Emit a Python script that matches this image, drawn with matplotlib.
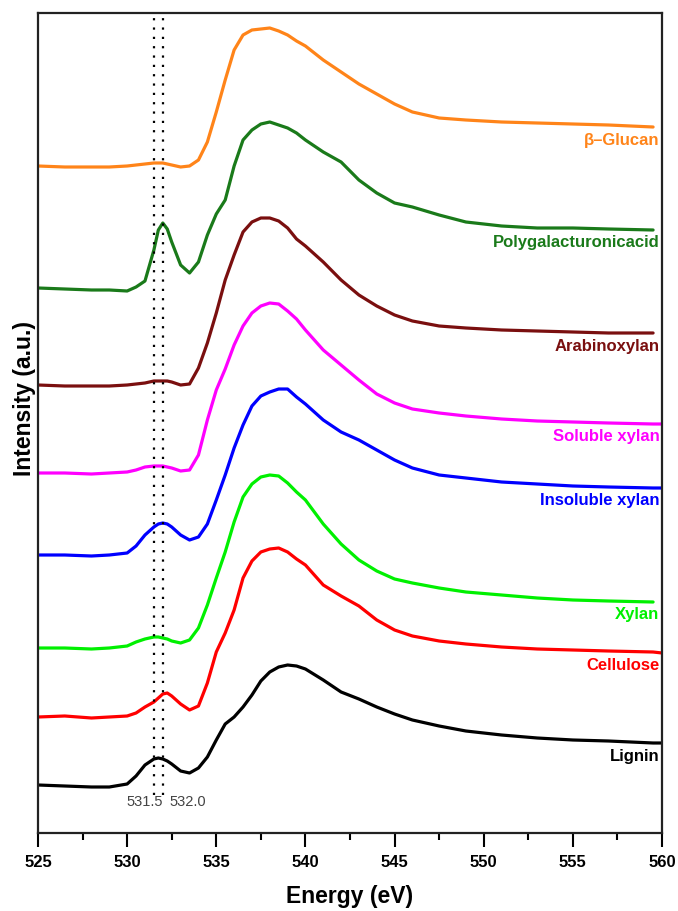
"""Stacked O K-edge XANES spectra of cell-wall polymers."""

import numpy as np
import matplotlib
matplotlib.use("Agg")
import matplotlib.pyplot as plt

plt.rcParams["font.family"] = ["Liberation Sans", "DejaVu Sans"]

# energy grid (eV)
energy = [525, 526.5, 528, 529, 530, 530.5, 531, 531.5, 531.75, 532, 532.25, 532.5, 533,
          533.5, 534, 534.5, 535, 535.5, 536, 536.5, 537, 537.5, 538, 538.5, 539, 539.5,
          540, 541, 542, 543, 544, 545, 546, 547.5, 549, 551, 553, 555, 557, 559.5, 560]

# stacked intensities (a.u.)
lignin = [48, 47, 46, 46, 49, 57, 68, 74, 75, 74, 72, 69, 62, 60, 65, 76, 93, 109, 116,
          126, 138, 152, 161, 166, 168, 167, 164, 153, 141, 134, 126, 119, 113, 107, 102,
          98, 95, 93, 92, 90, 90]
cellulose = [116, 117, 115, 116, 117, 120, 126, 131, 135, 139, 140, 137, 129, 123, 127, 150,
             181, 200, 223, 255, 272, 281, 284, 285, 281, 274, 268, 248, 237, 227, 213, 203,
             197, 192, 189, 186, 184, 183, 182, 181, 180]
xylan = [185, 185, 184, 185, 187, 191, 194, 196, 196, 195, 194, 192, 190, 193, 205, 228, 255,
         281, 311, 336, 349, 356, 358, 357, 350, 341, 333, 309, 289, 273, 262, 254, 250, 245,
         241, 238, 235, 233, 232, 231, np.nan]
insoluble_xylan = [278, 278, 277, 278, 280, 287, 298, 306, 309, 310, 309, 306, 298, 293, 296,
                   309, 333, 358, 385, 408, 427, 437, 441, 444, 444, 436, 429, 413, 401, 393,
                   383, 373, 365, 358, 355, 351, 349, 347, 346, 345, 345]
soluble_xylan = [360, 360, 359, 360, 361, 363, 366, 367, 367, 367, 366, 365, 362, 363, 378,
                 413, 443, 464, 488, 507, 520, 527, 530, 529, 522, 514, 503, 483, 468, 453,
                 439, 430, 424, 420, 417, 414, 412, 411, 410, 409, 409]
arabinoxylan = [448, 447, 447, 447, 448, 449, 450, 452, 452, 452, 452, 451, 448, 449, 465,
                490, 520, 553, 578, 601, 611, 615, 615, 612, 605, 594, 587, 571, 553, 538,
                527, 518, 512, 507, 505, 503, 502, 501, 500, 500, np.nan]
polygalacturonic = [545, 544, 543, 543, 542, 546, 552, 583, 603, 610, 604, 591, 568, 560, 571,
                    598, 619, 633, 667, 693, 703, 709, 711, 708, 705, 700, 693, 681, 671, 653,
                    640, 630, 626, 618, 611, 607, 605, 605, 604, 603, np.nan]
beta_glucan = [667, 666, 666, 666, 667, 668, 669, 670, 670, 670, 669, 668, 666, 667, 673, 691,
               721, 753, 783, 798, 803, 804, 805, 802, 798, 792, 787, 773, 761, 749, 739, 729,
               721, 715, 713, 711, 710, 709, 708, 706, np.nan]

names = ["Lignin", "Cellulose", "Xylan", "Insoluble xylan", "Soluble xylan",
         "Arabinoxylan", "Polygalacturonicacid", "\u03b2\u2013Glucan"]
series = [lignin, cellulose, xylan, insoluble_xylan, soluble_xylan,
          arabinoxylan, polygalacturonic, beta_glucan]
colors = ["#000000", "#FF0000", "#00F000", "#0000FF", "#FF00FF",
          "#7A0F0F", "#1A7A1A", "#FF8419"]
marked_peaks = [531.5, 532.0]

fig = plt.figure(figsize=(6.78, 9.11), dpi=100)
ax = fig.add_axes([38 / 678, 78 / 911, 624 / 678, 820 / 911])

x = np.array(energy)
for name, vals, c in zip(names, series, colors):
    y = np.array(vals, dtype=float)
    ax.plot(x, y, color=c, lw=2.3, solid_capstyle="round", solid_joinstyle="round")
    last = y[~np.isnan(y)][-1]
    ax.text(559.85, last - 13, name, color=c, fontsize=12, fontweight="bold",
            ha="right", va="center")

for e in marked_peaks:
    ax.axvline(e, ymin=38 / 820, ymax=1, color="black", lw=1.6,
               linestyle=(0, (1, 3.2)))
ax.text(531.0, 31, "531.5", fontsize=10.5, color="#444444", ha="center", va="center")
ax.text(533.4, 31, "532.0", fontsize=10.5, color="#444444", ha="center", va="center")

ax.set_xlim(525, 560)
ax.set_ylim(0, 820)
ax.set_xticks(np.arange(525, 561, 5))
ax.set_xticks(np.arange(527.5, 560, 5), minor=True)
ax.set_yticks([])
ax.tick_params(axis="x", which="major", direction="out", length=10, width=1.5,
               labelsize=12, pad=6)
ax.tick_params(axis="x", which="minor", direction="out", length=5, width=1.5)
for lbl in ax.get_xticklabels():
    lbl.set_fontweight("bold")
for sp in ax.spines.values():
    sp.set_linewidth(1.6)
    sp.set_color("#222222")

ax.set_xlabel("Energy (eV)", fontsize=16.5, fontweight="bold", labelpad=11)
fig.text(25 / 678, 1 - 398 / 911, "Intensity (a.u.)", fontsize=16.5,
         fontweight="bold", rotation=90, ha="center", va="center")

fig.savefig("out.png", dpi=100)
